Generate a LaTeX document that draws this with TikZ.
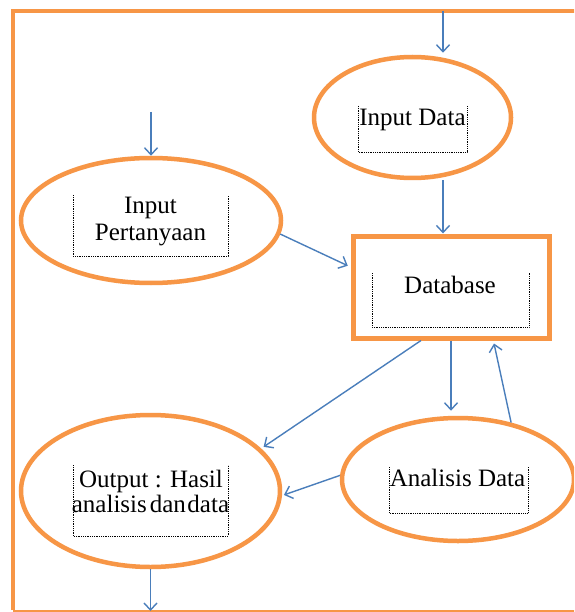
\documentclass[tikz,border=0pt]{standalone}
\usepackage{fontspec}
\setmainfont{Liberation Serif}
\usetikzlibrary{shapes.geometric,arrows.meta,calc}
\definecolor{orng}{HTML}{F79646}
\definecolor{blu}{HTML}{4A7EBB}
\tikzset{
  ell/.style={ellipse,draw=orng,line width=4.5pt,inner sep=0pt},
  boxnode/.style={rectangle,draw=orng,line width=5pt,inner sep=0pt},
  arr/.style={draw=blu,line width=1.4pt,-{Straight Barb[length=7pt,width=13pt,line width=1.4pt]}},
  txt/.style={anchor=base,inner sep=0pt,font=\fontsize{25}{27}\selectfont},
  tbox/.style={draw=black,densely dotted,line width=0.8pt}
}
\begin{document}
\begin{tikzpicture}[x=1pt,y=-1pt]
\clip (0,0) rectangle (574,612);
\fill[white] (0,0) rectangle (574,612);
% frame
\draw[orng,line width=4pt] (13,610) -- (13,11) -- (600,11);
\draw[orng,line width=3pt] (13,611) -- (600,611);
% shapes
\node[ell,minimum width=197pt,minimum height=121pt] (idata) at (412.5,117.5) {};
\node[ell,minimum width=260pt,minimum height=125pt] (ptanya) at (151,220.5) {};
\node[boxnode,minimum width=196pt,minimum height=102pt] (db) at (451,287) {};
\node[ell,minimum width=259pt,minimum height=152pt] (out) at (150.5,491) {};
\node[ell,minimum width=232pt,minimum height=123pt] (anal) at (458,479.5) {};
% dotted text boxes
\draw[tbox] (358,106) -- (358,152) -- (467,152) -- (467,106);
\draw[tbox] (73,195) -- (73,256) -- (228,256) -- (228,195);
\draw[tbox] (372,273) -- (372,327) -- (529,327) -- (529,273);
\draw[tbox] (73,465) -- (73,536) -- (228,536) -- (228,465);
\draw[tbox] (389,467) -- (389,513) -- (528,513) -- (528,467);
% texts
\node[txt] (t1) at (412.5,126) {Input Data};
\node[txt] (t2a) at (150.5,214) {Input};
\node[txt] (t2b) at (150.5,240) {Pertanyaan};
\node[txt] (t3) at (450,293) {Database};
\node[txt] (t4a) at (151,487) {Output : Hasil};
\node[txt] (t4b) at (150.5,512) {analisis\hspace{3pt}dan\hspace{1.5pt}data};
\node[txt] (t5) at (457.5,486) {Analisis Data};
% coordinates
\coordinate (topin) at (443,11);
\coordinate (ptin) at (151,112);
\coordinate (botout) at (150.5,611);
% connectors
\draw[arr,shorten >=2pt] (topin) -- (topin |- idata.north);
\draw[arr] (topin |- idata.south) -- (topin |- db.north);
\draw[arr] (ptin) -- (ptanya.north);
\draw[arr,shorten >=3pt] (ptanya.-6) -- ($(db.west)+(0,-20)$);
\draw[arr,shorten >=5pt] (db.south) -- (db.south |- anal.north);
\draw[arr] (anal.47) -- ($(db.south)+(43,3)$);
\draw[arr,shorten >=3pt] ($(db.south)+(-30,0)$) -- (out.21);
\draw[arr,shorten >=2pt] (anal.178) -- (out.-2);
\draw[arr] (out.south) -- (botout);
\end{tikzpicture}
\end{document}
